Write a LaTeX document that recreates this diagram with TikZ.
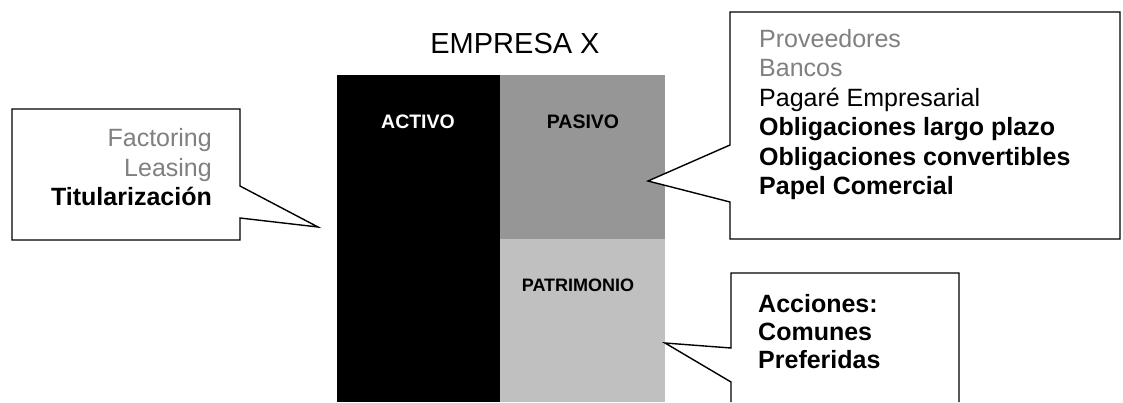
\documentclass[tikz,border=0pt]{standalone}
\usepackage{fontspec}
\setmainfont{Liberation Sans}
\definecolor{pasivogray}{RGB}{150,150,150}
\definecolor{patrigray}{RGB}{192,192,192}
\definecolor{txtgray}{RGB}{128,128,128}

\begin{document}
\begin{tikzpicture}[x=1pt,y=-1pt,
  bubble/.style={draw=black,line width=1.4pt,fill=white,line join=miter},
  listtext/.style={inner sep=0pt,font=\fontsize{25}{29.5}\selectfont},
  celltext/.style={inner sep=0pt,anchor=base,font=\fontsize{19.5}{22}\selectfont\bfseries}]
\useasboundingbox (0,0) rectangle (1123,402);

% balance
\fill[black] (337,75) rectangle (500,402);
\fill[pasivogray] (500,75) rectangle (665,239);
\fill[patrigray] (500,239) rectangle (665,402);

\node[inner sep=0pt,anchor=base,font=\fontsize{29}{34}\selectfont] (title) at (515,53) {EMPRESA X};
\node[celltext,text=white] (activo) at (418,128) {ACTIVO};
\node[celltext] (pasivo) at (583,128) {PASIVO};
\node[celltext,font=\fontsize{18}{20}\selectfont\bfseries] (patrimonio) at (578,291) {PATRIMONIO};

% callouts
\draw[bubble] (12,109) -- (240,109) -- (240,186) -- (318,227) -- (240,218) -- (240,240) -- (12,240) -- cycle;
\draw[bubble] (730,12) -- (1120,12) -- (1120,239) -- (730,239) -- (730,202) -- (648,181) -- (730,145) -- cycle;
\draw[bubble] (731,402) -- (731,382) -- (665,343) -- (731,348) -- (731,273) -- (959,273) -- (959,402);

\node[listtext,anchor=north east,align=right] (activos) at (212,128.5)
  {{\color{txtgray}Factoring}\\{\color{txtgray}Leasing}\\\textbf{Titularización}};
\node[listtext,anchor=north west,align=left] (pasivos) at (759,29)
  {{\color{txtgray}Proveedores}\\{\color{txtgray}Bancos}\\Pagaré Empresarial\\
   \textbf{Obligaciones largo plazo}\\\textbf{Obligaciones convertibles}\\\textbf{Papel Comercial}};
\node[listtext,anchor=north west,align=left,font=\fontsize{25}{28}\selectfont\bfseries] (acciones) at (758,294)
  {Acciones:\\Comunes\\Preferidas};

\end{tikzpicture}
\end{document}
